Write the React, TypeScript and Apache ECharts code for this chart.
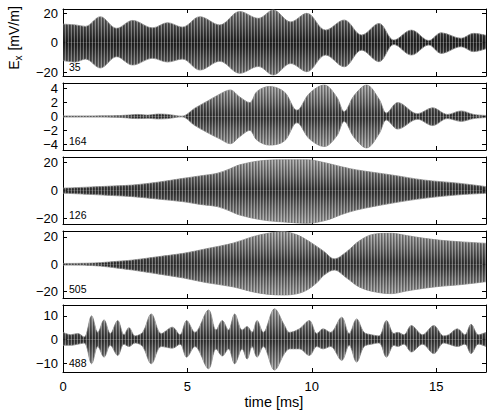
import React, { useEffect, useRef } from "react";
import * as echarts from "echarts";

// ---- data (envelope of each trace) ----
const p1T = [0, 0.5, 0.9, 1.5, 2.15, 2.8, 3.6, 4.2, 4.8, 5.5, 6.3, 7.1, 7.85, 8.45, 9.15, 9.8, 10.55, 11.3, 12.0, 12.7, 13.3, 14.0, 14.7, 15.2, 16.0, 16.5, 17.0];
const p1Up = [12.5, 12, 11, 17.5, 9.7, 15, 10, 13.5, 10.5, 17.5, 12, 21, 16.4, 22, 14, 19.8, 8.5, 15.3, 5.2, 13, 1.8, 8.5, 1.5, 6.7, 3, 6.3, 5];
const p1Lo = [-12, -13, -11, -17, -9.4, -15, -10.5, -13, -11, -18.4, -12.5, -20.6, -16, -21.7, -14, -19.5, -8.3, -16.2, -5, -12.8, -1.2, -8.3, -1.5, -7.2, -2.7, -6, -4];

const p2T = [0, 1, 2, 2.6, 3.0, 3.4, 3.8, 4.2, 4.77, 5.3, 5.8, 6.3, 6.72, 7.1, 7.5, 7.8, 8.3, 8.9, 9.4, 9.9, 10.5, 11.0, 11.3, 11.7, 12.2, 12.7, 13.0, 13.45, 14.25, 14.85, 15.45, 16.0, 16.5, 17];
const p2Up = [0.08, 0.08, 0.1, 0.2, 0.3, 0.2, 0.35, 0.3, 0.05, 1.2, 2.2, 3.2, 3.8, 2.8, 2.0, 3.6, 4.3, 3.5, 0.9, 3.3, 4.5, 2.8, 0.7, 3.0, 4.5, 2.5, 0.5, 2.0, 0.4, 1.25, 0.3, 0.8, 0.3, 0.15];
const p2Lo = [-0.08, -0.08, -0.1, -0.2, -0.3, -0.25, -0.35, -0.3, -0.05, -1.3, -2.3, -3.2, -3.9, -2.9, -2.0, -3.4, -4.1, -3.5, -0.9, -3.2, -4.3, -2.8, -0.7, -3.0, -4.5, -2.5, -0.5, -1.8, -0.4, -1.3, -0.3, -0.7, -0.3, -0.15];

const p3T = [0, 1, 2, 2.8, 3.8, 4.84, 5.5, 6.2, 6.7, 7.1, 8.05, 9.0, 9.8, 10.6, 11.2, 11.8, 13.2, 14.5, 15.9, 17];
const p3Up = [1.8, 2.5, 3.3, 4, 6, 8.8, 10.5, 12.4, 15.5, 18.4, 21.5, 22, 22, 19.6, 17, 14.8, 11.2, 7.6, 5.3, 2.9];
const p3Lo = [-1.8, -2.6, -3.5, -4.3, -6, -7.9, -9.8, -11.4, -14.5, -17.4, -21, -22.5, -23.3, -21, -17, -13.8, -9, -5.5, -3, -1.9];

const p4T = [0, 1, 1.5, 2.2, 2.8, 3.8, 4.84, 5.8, 6.85, 7.6, 8.2, 8.85, 9.4, 9.8, 10.2, 10.5, 10.9, 11.4, 11.9, 12.5, 13.2, 13.8, 14.5, 15.2, 15.9, 17];
const p4Up = [0.6, 0.8, 1.2, 2.2, 3.1, 5.5, 8, 11.5, 15.5, 20, 22.5, 23.8, 21.5, 17.7, 13, 9.2, 4, 9.2, 17, 22, 22.6, 21, 19, 17.5, 16.5, 15.3];
const p4Lo = [-0.6, -0.8, -1.3, -2.8, -4.2, -7, -10, -13.5, -16.5, -20, -21.8, -22.4, -21.5, -18.8, -13.5, -7.8, -4.2, -10, -16.5, -20, -21.4, -19.5, -17.5, -16, -15, -12.7];

const p5T = [0, 0.3, 0.6, 0.85, 1.15, 1.4, 1.65, 1.9, 2.2, 2.45, 2.65, 2.9, 3.2, 3.55, 3.95, 4.4, 4.7, 4.97, 5.3, 5.85, 6.15, 6.4, 6.65, 6.9, 7.2, 7.4, 7.6, 7.8, 8.05, 8.5, 8.9, 9.1, 9.5, 9.9, 10.2, 10.45, 10.75, 11.2, 11.5, 11.8, 12.1, 12.4, 12.7, 13.0, 13.3, 13.45, 13.7, 14.0, 14.45, 14.9, 15.3, 15.5, 15.85, 16.15, 16.4, 16.7, 17.0];
const p5Up = [3, 2, 2.5, 1, 10, 3, 8.3, 2.5, 8, 2, 5, 1.5, 3, 10.8, 2.5, 5.2, 2, 8, 3, 12.5, 4, 8, 4, 10.8, 4, 5.5, 3, 8, 3, 13, 6, 3, 4.5, 8, 2.5, 4.5, 3, 9.4, 2.5, 8.7, 3, 2, 1.5, 8, 2.5, 3, 2, 5.9, 2, 5.9, 1.5, 2, 4.5, 2, 6.4, 2, 3];
const p5Lo = [-2.5, -2.5, -2, -1.5, -10.3, -3, -7.5, -2.5, -6.8, -2, -3, -1.5, -3, -10.3, -3, -3.7, -2, -7.5, -3, -12.4, -4, -7, -4, -10.3, -4, -8.3, -3, -7.5, -3, -13, -6, -4, -4, -6.8, -3, -4, -3, -8.9, -2.5, -9.6, -3, -2, -1.5, -7.5, -2.5, -3, -2, -5.3, -2, -6, -1.5, -2, -3, -2, -6, -2, -3];

const stationLabels = ["35", "164", "126", "505", "488"];
const yTickValues = [[-20, 0, 20], [-4, -2, 0, 2, 4], [-20, 0, 20], [-20, 0, 20], [-10, 0, 10]];
const yRanges = [[-22.4, 22.7], [-4.8, 4.8], [-23.8, 24], [-24.6, 24.3], [-13.8, 14.6]];
const xTicks = [0, 5, 10, 15];
const xMin = 0;
const xMax = 17;

const panels = [
  { t: p1T, up: p1Up, lo: p1Lo },
  { t: p2T, up: p2Up, lo: p2Lo },
  { t: p3T, up: p3Up, lo: p3Lo },
  { t: p4T, up: p4Up, lo: p4Lo },
  { t: p5T, up: p5Up, lo: p5Lo },
];

const FONT = "'Liberation Sans', Arial, Helvetica, sans-serif";

function stripeCanvas() {
  const c = document.createElement("canvas");
  c.width = 3;
  c.height = 2;
  const ctx = c.getContext("2d")!;
  ctx.clearRect(0, 0, 3, 2);
  ctx.fillStyle = "rgba(255,255,255,0.32)";
  ctx.fillRect(2, 0, 1, 2);
  ctx.fillStyle = "rgba(0,0,0,0.25)";
  ctx.fillRect(0, 0, 1, 2);
  return c;
}

export default function App() {
  const ref = useRef<HTMLDivElement>(null);
  useEffect(() => {
    if (!ref.current) return;
    const chart = echarts.init(ref.current, undefined, { renderer: "svg" });
    const left = 63;
    const width = 423;
    const tops = [9, 83, 157, 231, 305];
    const h = 67;
    const stripes = stripeCanvas();

    const grid: any[] = [];
    const xAxis: any[] = [];
    const yAxis: any[] = [];
    const series: any[] = [];
    const graphic: any[] = [];

    const axisLine = { show: true, onZero: false, lineStyle: { color: "#000", width: 1 } };

    panels.forEach((p, i) => {
      grid.push({ left, top: tops[i], width, height: h, show: false });
      const isLast = i === panels.length - 1;
      xAxis.push({
        type: "value", gridIndex: i, position: "bottom", min: xMin, max: xMax,
        axisLine, splitLine: { show: false },
        axisTick: { show: true, inside: true, length: 4, customValues: xTicks, lineStyle: { color: "#000" } },
        axisLabel: { show: isLast, customValues: xTicks, fontSize: 13, color: "#000", fontFamily: FONT, margin: 8 },
      });
      xAxis.push({
        type: "value", gridIndex: i, position: "top", min: xMin, max: xMax,
        axisLine, splitLine: { show: false },
        axisTick: { show: true, inside: true, length: 4, customValues: xTicks, lineStyle: { color: "#000" } },
        axisLabel: { show: false },
      });
      yAxis.push({
        type: "value", gridIndex: i, position: "left", min: yRanges[i][0], max: yRanges[i][1],
        axisLine, splitLine: { show: false },
        axisTick: { show: true, inside: true, length: 4, customValues: yTickValues[i], lineStyle: { color: "#000" } },
        axisLabel: { show: true, customValues: yTickValues[i], fontSize: 13, color: "#000", fontFamily: FONT, margin: 5,
          formatter: (v: number) => (v < 0 ? "\u2212" + Math.abs(v) : String(v)) },
      });
      yAxis.push({
        type: "value", gridIndex: i, position: "right", min: yRanges[i][0], max: yRanges[i][1],
        axisLine, splitLine: { show: false },
        axisTick: { show: true, inside: true, length: 4, customValues: yTickValues[i], lineStyle: { color: "#000" } },
        axisLabel: { show: false },
      });

      const upData = p.t.map((t, k) => [t, p.up[k]]);
      const loData = p.t.map((t, k) => [t, p.lo[k]]);
      const common = {
        type: "line", xAxisIndex: 2 * i, yAxisIndex: 2 * i, symbol: "none", smooth: 0.35,
        silent: true, z: 1,
      };
      const edge = i === 0 ? "#7a7a7a" : "#9a9a9a";
      const mid = i === 0 ? "#4a4a4a" : "#666";
      const core = i === 0 ? "#202020" : "#333";
      series.push({
        ...common, data: upData, lineStyle: { width: 0.8, color: "#8a8a8a" },
        areaStyle: { origin: 0, opacity: 1, color: new echarts.graphic.LinearGradient(0, 0, 0, 1, [
          { offset: 0, color: edge }, { offset: 0.55, color: mid }, { offset: 1, color: core }]) },
      });
      series.push({
        ...common, data: loData, lineStyle: { width: 0.8, color: "#8a8a8a" },
        areaStyle: { origin: 0, opacity: 1, color: new echarts.graphic.LinearGradient(0, 0, 0, 1, [
          { offset: 0, color: core }, { offset: 0.45, color: mid }, { offset: 1, color: edge }]) },
      });
      // vertical stripe texture overlay (same envelopes)
      series.push({
        ...common, data: upData, z: 2, lineStyle: { width: 0 },
        areaStyle: { origin: 0, opacity: 1, color: { image: stripes, repeat: "repeat" } },
      });
      series.push({
        ...common, data: loData, z: 2, lineStyle: { width: 0 },
        areaStyle: { origin: 0, opacity: 1, color: { image: stripes, repeat: "repeat" } },
      });

      graphic.push({
        type: "text", left: 69, top: tops[i] + h - 15, z: 10,
        style: { text: stationLabels[i], fontSize: 10.5, fill: "#000", fontFamily: FONT },
      });
    });

    graphic.push({
      type: "text", x: 14, y: 38, rotation: Math.PI / 2,
      style: {
        text: "{e|E}{s|x}{e| [mV/m]}",
        textAlign: "center", textVerticalAlign: "middle", fontFamily: FONT,
        rich: {
          e: { fontSize: 14, fill: "#000", fontFamily: FONT, verticalAlign: "middle" },
          s: { fontSize: 10, fill: "#000", fontFamily: FONT, padding: [9, 1, 0, 0] },
        },
      },
    });
    graphic.push({
      type: "text", x: 274, y: 402,
      style: { text: "time [ms]", fontSize: 14.5, fill: "#000", fontFamily: FONT, textAlign: "center", textVerticalAlign: "middle" },
    });

    chart.setOption({
      animation: false,
      backgroundColor: "#fff",
      grid, xAxis, yAxis, series, graphic,
    });
    return () => chart.dispose();
  }, []);
  return <div ref={ref} style={{ position: "fixed", left: 0, top: 0, width: 491, height: 414 }} />;
}
